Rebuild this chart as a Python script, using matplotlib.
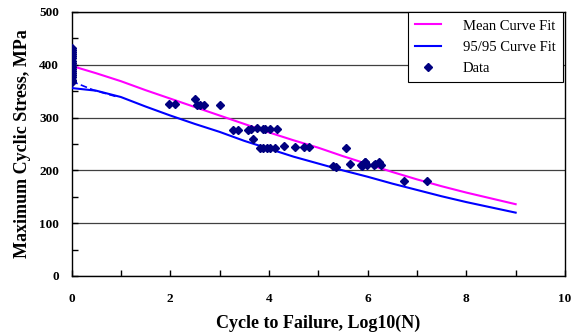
import matplotlib
matplotlib.use("Agg")
import matplotlib.pyplot as plt
from matplotlib.ticker import MultipleLocator

# ---- data ----
fit_x = [0, 0.5, 1, 1.5, 2, 2.5, 3, 3.5, 4, 4.5, 5, 5.5, 6, 6.5, 7, 7.5, 8, 8.5, 9]
mean_fit = [398, 384, 369, 352, 336, 320, 304, 288, 272, 257, 243, 227, 212, 197, 183, 170, 158, 147, 136]
fit_9595 = [356, 351, 339, 321, 304, 288, 273, 256, 241, 226, 213, 200, 188, 175, 163, 151, 140, 130, 120]
dash_x = [0, 0.45, 0.9]
dash_y = [369, 352, 340]

data_x = [0]*18 + [1.98, 2.10, 2.50, 2.54, 2.60, 2.69, 3.00,
          3.28, 3.38, 3.58, 3.63, 3.75, 3.67, 3.82, 3.96, 3.92,
          3.89, 4.02, 4.16, 3.89, 4.02, 4.12, 4.31, 4.52, 4.72, 4.81,
          5.29, 5.36, 5.56, 5.64, 5.88, 5.95, 5.98,
          5.95, 5.87, 6.15, 6.24, 6.28, 6.12, 6.74, 7.20]
data_y = [432, 428, 424, 420, 416, 412, 408, 404, 400, 396, 392, 388, 384, 380, 376, 372, 370, 368] + \
         [326, 326, 335, 323, 323, 324, 323,
          276, 276.5, 277, 278, 280, 259, 242, 242, 278,
          278, 278, 278, 242, 243, 242, 246, 244, 244, 244,
          208, 207, 242, 212, 209, 216, 210,
          215, 211, 213, 215, 211, 210, 179, 179]

x_ticks = [0, 2, 4, 6, 8, 10]
y_ticks = [0, 100, 200, 300, 400, 500]

plt.rcParams['font.family'] = ['Liberation Serif', 'DejaVu Serif']

fig = plt.figure(figsize=(5.73, 3.34), dpi=100)
ax = fig.add_axes([71.5/573, 1-276/334, (565-71.5)/573, (276-12)/334])

ax.plot(fit_x, mean_fit, color='#FF00FF', lw=1.5, label='Mean Curve Fit', zorder=3)
ax.plot(fit_x, fit_9595, color='#0000FF', lw=1.5, label='95/95 Curve Fit', zorder=3)
ax.plot(dash_x, dash_y, color='#0000FF', lw=1.2, ls=(0, (4, 2)), zorder=3)
ax.plot(data_x, data_y, ls='none', marker='D', ms=4.5, color='#000080', label='Data', zorder=4)

ax.set_xlim(0, 10)
ax.set_ylim(0, 500)
ax.set_xticks(x_ticks)
ax.set_yticks(y_ticks)
ax.xaxis.set_minor_locator(MultipleLocator(1))
ax.yaxis.set_minor_locator(MultipleLocator(50))
ax.tick_params(which='both', direction='in', length=4, width=1, color='black')
ax.tick_params(axis='x', pad=12)
ax.tick_params(axis='y', pad=9)
for lab in ax.get_xticklabels() + ax.get_yticklabels():
    lab.set_fontweight('bold')
    lab.set_fontsize(9.5)

ax.yaxis.grid(True, which='major', color='#404040', lw=0.9)
ax.set_axisbelow(True)
for s in ax.spines.values():
    s.set_color('black')
    s.set_linewidth(1.0)

ax.set_xlabel('Cycle to Failure, Log10(N)', fontsize=13, fontweight='bold', labelpad=7)
ax.set_ylabel('Maximum Cyclic Stress, MPa', fontsize=13, fontweight='bold', labelpad=6)

leg = ax.legend(loc='upper right', bbox_to_anchor=(0.996, 1.0), borderaxespad=0,
                fancybox=False, edgecolor='black', fontsize=10.5, handlelength=1.8,
                handletextpad=1.5, labelspacing=0.55, borderpad=0.5, markerscale=0.8)
leg.get_frame().set_linewidth(0.8)
leg.get_frame().set_alpha(1)

fig.savefig('out.png', dpi=100)
